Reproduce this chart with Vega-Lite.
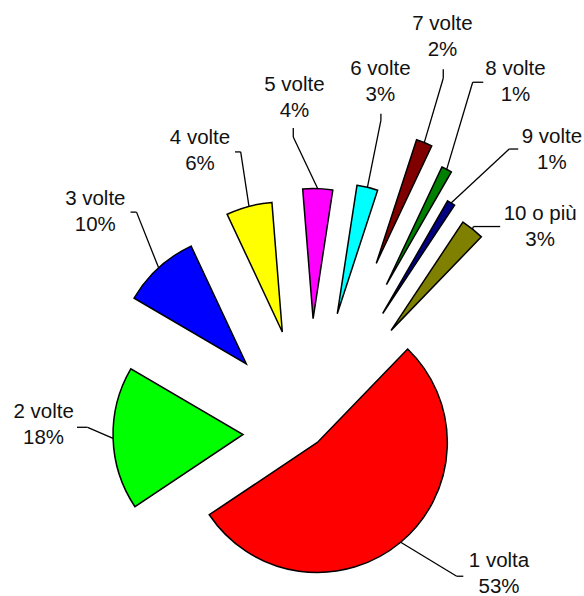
{
  "$schema": "https://vega.github.io/schema/vega-lite/v6.json",
  "width": 550,
  "height": 327,
  "autosize": {"type": "none"},
  "padding": {"left": 34, "top": 269, "right": 0, "bottom": 0},
  "background": "white",
  "view": {"stroke": null},
  "data": {
    "values": [
      {"i": 0, "cat": "1 volta", "v": 0.534},
      {"i": 1, "cat": "2 volte", "v": 0.178},
      {"i": 2, "cat": "3 volte", "v": 0.096},
      {"i": 3, "cat": "4 volte", "v": 0.057},
      {"i": 4, "cat": "5 volte", "v": 0.037},
      {"i": 5, "cat": "6 volte", "v": 0.026},
      {"i": 6, "cat": "7 volte", "v": 0.020},
      {"i": 7, "cat": "8 volte", "v": 0.013},
      {"i": 8, "cat": "9 volte", "v": 0.010},
      {"i": 9, "cat": "10 o più", "v": 0.029}
    ]
  },
  "transform": [
    {"stack": "v", "groupby": [], "sort": [{"field": "i", "order": "ascending"}], "as": ["v0", "v1"]}
  ],
  "layer": [
    {
      "mark": {
        "type": "arc",
        "radius": 130,
        "stroke": "black",
        "strokeWidth": 1.5,
        "strokeJoin": "miter",
        "strokeMiterLimit": 4,
        "xOffset": {"expr": "[13,66,93,104,114,122,182,167,140,131][datum.i]*sin(0.76794+PI*(datum.v0+datum.v1))"},
        "yOffset": {"expr": "-[13,66,93,104,114,122,182,167,140,131][datum.i]*cos(0.76794+PI*(datum.v0+datum.v1))"}
      },
      "encoding": {
        "theta": {"field": "v0", "type": "quantitative", "stack": null, "scale": {"domain": [0, 1], "range": [0.76794, 7.05113]}},
        "theta2": {"field": "v1"},
        "color": {
          "field": "cat",
          "type": "nominal",
          "legend": null,
          "scale": {
            "domain": ["1 volta", "2 volte", "3 volte", "4 volte", "5 volte", "6 volte", "7 volte", "8 volte", "9 volte", "10 o più"],
            "range": ["#FF0000", "#00FF00", "#0000FF", "#FFFF00", "#FF00FF", "#00FFFF", "#800000", "#008000", "#000080", "#808000"]
          }
        }
      }
    },
    {
      "mark": {"type": "rule", "color": "black", "strokeWidth": 1.3},
      "encoding": {
        "x": {"value": {"expr": "width/2+(130+[13,66,93,104,114,122,182,167,140,131][datum.i])*sin(0.76794+PI*(datum.v0+datum.v1))"}},
        "y": {"value": {"expr": "height/2-(130+[13,66,93,104,114,122,182,167,140,131][datum.i])*cos(0.76794+PI*(datum.v0+datum.v1))"}},
        "x2": {"value": {"expr": "width/2+(130+[13,66,93,104,114,122,182,167,140,131][datum.i])*sin(0.76794+PI*(datum.v0+datum.v1))+[56,-25.5,-22.1,-8.3,-24.5,13.5,19,26,58.1,1][datum.i]"}},
        "y2": {"value": {"expr": "height/2-(130+[13,66,93,104,114,122,182,167,140,131][datum.i])*cos(0.76794+PI*(datum.v0+datum.v1))+[34,-11.1,-55.7,-54.4,-51.6,-66.9,-64.3,-87.1,-53.9,-2.5][datum.i]"}}
      }
    },
    {
      "mark": {"type": "rule", "color": "black", "strokeWidth": 1.3},
      "encoding": {
        "x": {"value": {"expr": "width/2+(130+[13,66,93,104,114,122,182,167,140,131][datum.i])*sin(0.76794+PI*(datum.v0+datum.v1))+[56,-25.5,-22.1,-8.3,-24.5,13.5,19,26,58.1,1][datum.i]"}},
        "y": {"value": {"expr": "height/2-(130+[13,66,93,104,114,122,182,167,140,131][datum.i])*cos(0.76794+PI*(datum.v0+datum.v1))+[34,-11.1,-55.7,-54.4,-51.6,-66.9,-64.3,-87.1,-53.9,-2.5][datum.i]"}},
        "x2": {"value": {"expr": "width/2+(130+[13,66,93,104,114,122,182,167,140,131][datum.i])*sin(0.76794+PI*(datum.v0+datum.v1))+[62.6,-36.1,-28.1,-14,-24.5,13.5,19,36.6,67.1,27.7][datum.i]"}},
        "y2": {"value": {"expr": "height/2-(130+[13,66,93,104,114,122,182,167,140,131][datum.i])*cos(0.76794+PI*(datum.v0+datum.v1))+[34,-11.1,-55.7,-54.4,-60.6,-73.6,-73.3,-87.1,-53.9,-2.5][datum.i]"}}
      }
    },
    {
      "mark": {
        "type": "text",
        "font": "Liberation Sans",
        "fontSize": 20.5,
        "lineHeight": 26,
        "align": "center",
        "baseline": "middle",
        "color": "#111111",
        "text": {"expr": "[datum.cat, format(datum.v, '.0%')]"},
        "xOffset": {"expr": "(130+[13,66,93,104,114,122,182,167,140,131][datum.i])*sin(0.76794+PI*(datum.v0+datum.v1))+[98.3,-69.5,-63.3,-49,-23.3,13,18.2,68.8,100.8,67.7][datum.i]"},
        "yOffset": {"expr": "-(130+[13,66,93,104,114,122,182,167,140,131][datum.i])*cos(0.76794+PI*(datum.v0+datum.v1))+[18.3,-26.2,-68.4,-68.1,-104,-117.9,-118.1,-100.4,-66.3,-15][datum.i]"}
      },
      "encoding": {}
    }
  ]
}
